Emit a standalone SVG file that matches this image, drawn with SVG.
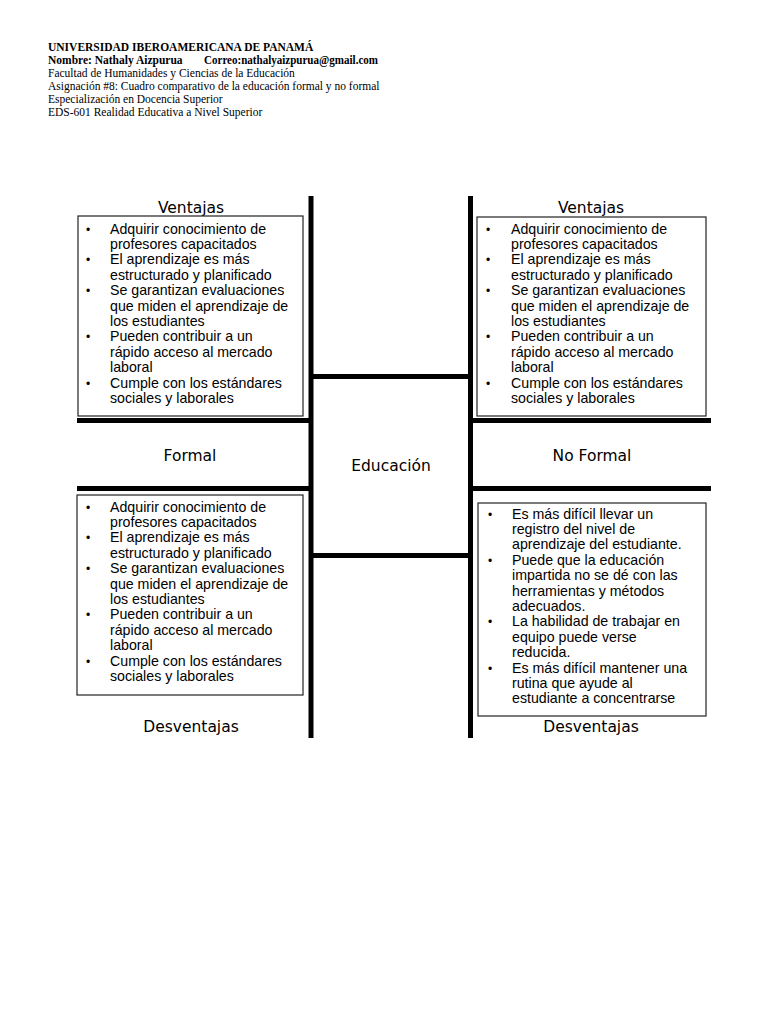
<svg xmlns="http://www.w3.org/2000/svg" width="768" height="1024" viewBox="0 0 768 1024">
<style>
.hd{font-family:"Liberation Serif","Times New Roman",serif;font-size:11.5px;fill:#000}
.hb{font-weight:bold}
.lb{font-family:"DejaVu Sans",sans-serif;font-size:15.5px;fill:#000;text-anchor:middle}
.tx{font-family:"Liberation Sans",Arial,sans-serif;font-size:14.2px;fill:#000}
.bu{font-size:12px}
.box{fill:#fff;stroke:#222;stroke-width:1.2}
.thick{stroke:#000;stroke-width:5;fill:none}
</style>
<rect width="768" height="1024" fill="#fff"/>
<g id="header">
<text class="hd hb" x="48" y="51">UNIVERSIDAD IBEROAMERICANA DE PANAMÁ</text>
<text class="hd hb" x="48" y="64">Nombre: Nathaly Aizpurua</text>
<text class="hd hb" x="204" y="64" textLength="174" lengthAdjust="spacingAndGlyphs">Correo:nathalyaizpurua@gmail.com</text>
<text class="hd" x="48" y="77">Facultad de Humanidades y Ciencias de la Educación</text>
<text class="hd" x="48" y="90">Asignación #8: Cuadro comparativo de la educación formal y no formal</text>
<text class="hd" x="48" y="103">Especialización en Docencia Superior</text>
<text class="hd" x="48" y="116">EDS-601 Realidad Educativa a Nivel Superior</text>
</g>
<g id="connectors">
<line class="thick" x1="311" y1="196" x2="311" y2="738"/>
<line class="thick" x1="470.5" y1="196" x2="470.5" y2="738"/>
<line class="thick" x1="77" y1="420.5" x2="311" y2="420.5"/>
<line class="thick" x1="77" y1="488.5" x2="311" y2="488.5"/>
<line class="thick" x1="470.5" y1="420.5" x2="711" y2="420.5"/>
<line class="thick" x1="470.5" y1="488.5" x2="711" y2="488.5"/>
<line class="thick" x1="311" y1="376.5" x2="470.5" y2="376.5"/>
<line class="thick" x1="311" y1="555.5" x2="470.5" y2="555.5"/>
</g>
<g id="center">
<text class="lb" x="391" y="471">Educación</text>
</g>
<g id="formal-label">
<text class="lb" x="190" y="461">Formal</text>
</g>
<g id="noformal-label">
<text class="lb" x="592" y="461">No Formal</text>
</g>
<g id="formal-ventajas">
<text class="lb" x="191" y="213">Ventajas</text>
<rect class="box" x="78" y="216" width="225" height="200"/>
<g class="tx">
<text class="bu" x="86" y="233.5">•</text><text x="110" y="233.5">Adquirir conocimiento de</text>
<text x="110" y="248.9">profesores capacitados</text>
<text class="bu" x="86" y="264.3">•</text><text x="110" y="264.3">El aprendizaje es más</text>
<text x="110" y="279.7">estructurado y planificado</text>
<text class="bu" x="86" y="295.1">•</text><text x="110" y="295.1">Se garantizan evaluaciones</text>
<text x="110" y="310.5">que miden el aprendizaje de</text>
<text x="110" y="325.9">los estudiantes</text>
<text class="bu" x="86" y="341.3">•</text><text x="110" y="341.3">Pueden contribuir a un</text>
<text x="110" y="356.7">rápido acceso al mercado</text>
<text x="110" y="372.1">laboral</text>
<text class="bu" x="86" y="387.5">•</text><text x="110" y="387.5">Cumple con los estándares</text>
<text x="110" y="402.9">sociales y laborales</text>
</g>
</g>
<g id="noformal-ventajas">
<text class="lb" x="591" y="213">Ventajas</text>
<rect class="box" x="477" y="217" width="229" height="199"/>
<g class="tx">
<text class="bu" x="486" y="233.5">•</text><text x="511" y="233.5">Adquirir conocimiento de</text>
<text x="511" y="248.9">profesores capacitados</text>
<text class="bu" x="486" y="264.3">•</text><text x="511" y="264.3">El aprendizaje es más</text>
<text x="511" y="279.7">estructurado y planificado</text>
<text class="bu" x="486" y="295.1">•</text><text x="511" y="295.1">Se garantizan evaluaciones</text>
<text x="511" y="310.5">que miden el aprendizaje de</text>
<text x="511" y="325.9">los estudiantes</text>
<text class="bu" x="486" y="341.3">•</text><text x="511" y="341.3">Pueden contribuir a un</text>
<text x="511" y="356.7">rápido acceso al mercado</text>
<text x="511" y="372.1">laboral</text>
<text class="bu" x="486" y="387.5">•</text><text x="511" y="387.5">Cumple con los estándares</text>
<text x="511" y="402.9">sociales y laborales</text>
</g>
</g>
<g id="formal-desventajas">
<rect class="box" x="77" y="495" width="226" height="200"/>
<g class="tx">
<text class="bu" x="86" y="511.5">•</text><text x="110" y="511.5">Adquirir conocimiento de</text>
<text x="110" y="526.9">profesores capacitados</text>
<text class="bu" x="86" y="542.3">•</text><text x="110" y="542.3">El aprendizaje es más</text>
<text x="110" y="557.7">estructurado y planificado</text>
<text class="bu" x="86" y="573.1">•</text><text x="110" y="573.1">Se garantizan evaluaciones</text>
<text x="110" y="588.5">que miden el aprendizaje de</text>
<text x="110" y="603.9">los estudiantes</text>
<text class="bu" x="86" y="619.3">•</text><text x="110" y="619.3">Pueden contribuir a un</text>
<text x="110" y="634.7">rápido acceso al mercado</text>
<text x="110" y="650.1">laboral</text>
<text class="bu" x="86" y="665.5">•</text><text x="110" y="665.5">Cumple con los estándares</text>
<text x="110" y="680.9">sociales y laborales</text>
</g>
<text class="lb" x="191" y="732">Desventajas</text>
</g>
<g id="noformal-desventajas">
<rect class="box" x="478" y="503" width="228" height="213"/>
<g class="tx">
<text class="bu" x="488" y="518.5">•</text><text x="512" y="518.5">Es más difícil llevar un</text>
<text x="512" y="533.9">registro del nivel de</text>
<text x="512" y="549.3">aprendizaje del estudiante.</text>
<text class="bu" x="488" y="564.7">•</text><text x="512" y="564.7">Puede que la educación</text>
<text x="512" y="580.1">impartida no se dé con las</text>
<text x="512" y="595.5">herramientas y métodos</text>
<text x="512" y="610.9">adecuados.</text>
<text class="bu" x="488" y="626.3">•</text><text x="512" y="626.3">La habilidad de trabajar en</text>
<text x="512" y="641.7">equipo puede verse</text>
<text x="512" y="657.1">reducida.</text>
<text class="bu" x="488" y="672.5">•</text><text x="512" y="672.5">Es más difícil mantener una</text>
<text x="512" y="687.9">rutina que ayude al</text>
<text x="512" y="703.3">estudiante a concentrarse</text>
</g>
<text class="lb" x="591" y="732">Desventajas</text>
</g>
</svg>
